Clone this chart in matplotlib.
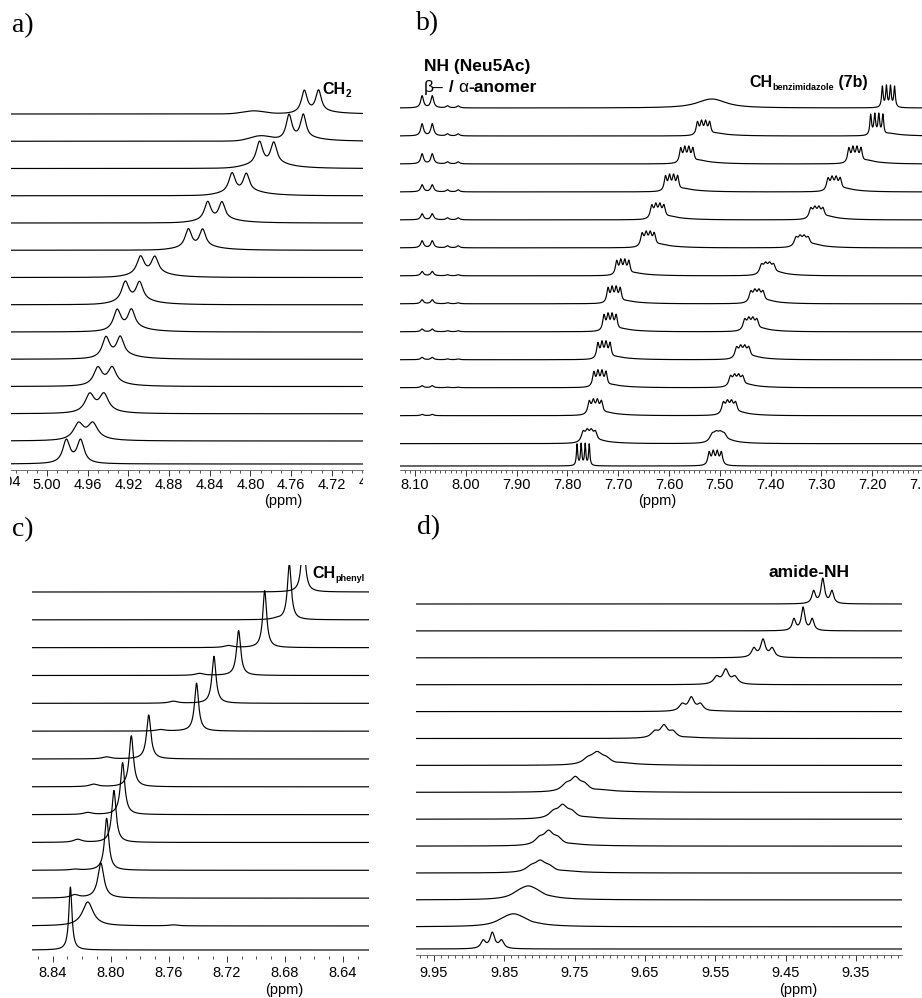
import numpy as np
import matplotlib.pyplot as plt
from matplotlib.ticker import FixedLocator, MultipleLocator, FormatStrFormatter
from matplotlib.transforms import Bbox, TransformedBbox, blended_transform_factory

W, H = 922, 998
plt.rcParams['font.family'] = ['Liberation Sans', 'DejaVu Sans']

# ---------------- data (traces listed top -> bottom) ----------------
# a) CH2 doublet
a_center = [4.740, 4.755, 4.784, 4.811, 4.835, 4.854, 4.901, 4.916, 4.924, 4.935, 4.943, 4.951, 4.962, 4.974]
a_height = [24, 27, 26, 22, 21, 21, 21, 23, 23, 23, 20, 21, 19, 25]
a_hw = [0.0035, 0.0035, 0.004, 0.004, 0.004, 0.004, 0.0045, 0.0045, 0.0045, 0.0045, 0.005, 0.0055, 0.006, 0.0042]
a_split = 0.014
a_tail = [2, 3, 4, 4, 3, 3, 3, 3, 3, 3, 2, 1, 1, 0]          # shelf on the high-field side
a_hump_pos = [4.797, 4.790, 4.800, 4.825, 4.850, 4.870, 4.915, 4.930, 4.94, 4.95, 4.96, 4.97, 4.98, 4.99]
a_hump_height = [3, 5, 2, 1.5, 1, 1, 1, 1, 0, 0, 0, 0, 0, 0]
a_ticks = [5.00, 4.96, 4.92, 4.88, 4.84, 4.80, 4.76, 4.72]

# b) NH (Neu5Ac) + two benzimidazole CH multiplets
b_nh_pos = [8.086, 8.066]
b_nh2_pos = [8.036, 8.015]
b_nh_height = [12, 12, 10, 7, 6, 7, 4.3, 4, 2.7, 2.3, 2, 1.3, 0, 0]
b_nh2_height = [2, 2, 2, 2, 2, 2, 1, 1, 1, 0.8, 0.5, 0, 0, 0]
b_g1_pos = [7.516, 7.532, 7.565, 7.595, 7.622, 7.641, 7.691, 7.708, 7.716, 7.728, 7.736, 7.745, 7.757, 7.769]
b_g1_height = [9, 16, 18, 18, 17, 17, 17, 18, 19, 19, 18, 17, 15, 23]
b_g1_hw = [0.03, 0.003, 0.003, 0.003, 0.0035, 0.0035, 0.003, 0.003, 0.003, 0.003, 0.003, 0.0035, 0.0045, 0.0015]
b_g2_pos = [7.168, 7.191, 7.234, 7.275, 7.309, 7.338, 7.406, 7.427, 7.439, 7.455, 7.467, 7.481, 7.503, 7.509]
b_g2_height = [23, 23, 18, 16, 14, 13, 14, 15, 15, 15, 14, 16, 13, 16]
b_g2_hw = [0.0018, 0.002, 0.003, 0.0035, 0.004, 0.0045, 0.0045, 0.004, 0.004, 0.004, 0.004, 0.004, 0.006, 0.003]
b_tail = [0, 3, 4, 3.5, 3.5, 3.5, 3, 3, 3, 3, 3, 3, 2.5, 0]
b_mult = [-0.012, -0.004, 0.004, 0.012]
b_ticks = [8.10, 8.00, 7.90, 7.80, 7.70, 7.60, 7.50, 7.40, 7.30, 7.20, 7.10]

# c) CH phenyl singlet
c_pos = [8.6674, 8.677, 8.694, 8.712, 8.729, 8.741, 8.774, 8.786, 8.792, 8.798, 8.803, 8.807, 8.816, 8.828]
c_height = [56, 56, 57, 45, 47, 48, 44, 51, 52, 52, 52, 35, 24, 63]
c_hw = [0.0016, 0.0016, 0.0016, 0.0017, 0.0017, 0.0017, 0.0018, 0.0018, 0.0018, 0.0018, 0.0018, 0.0025, 0.0045, 0.0013]
c_bump_pos = [8.690, 8.686, 8.719, 8.739, 8.757, 8.766, 8.803, 8.812, 8.816, 8.823, 8.825, 8.825, 8.757, 8.800]
c_bump_height = [0, 1, 2, 2, 2, 1.5, 2, 2.5, 2, 3, 1, 3, 1, 0]
c_ticks = [8.84, 8.80, 8.76, 8.72, 8.68, 8.64]

# d) amide-NH triplet
d_pos = [9.397, 9.425, 9.482, 9.535, 9.584, 9.623, 9.718, 9.749, 9.767, 9.787, 9.799, 9.816, 9.837, 9.867]
d_height = [26, 24, 19, 16, 15, 14, 14, 16, 15, 16, 13, 14, 13, 17]
d_hw = [0.003, 0.003, 0.004, 0.005, 0.005, 0.006, 0.009, 0.008, 0.008, 0.008, 0.009, 0.014, 0.016, 0.004]
d_tail = [0, 0, 0, 0, 0.5, 1, 2, 2, 1.5, 1.5, 1.5, 1, 1, 0]
d_J = 0.013
d_ticks = [9.95, 9.85, 9.75, 9.65, 9.55, 9.45, 9.35]


def lorentz(x, x0, hw):
    return hw ** 2 / (hw ** 2 + (x - x0) ** 2)


def multiplet(x, center, offsets, weights, hw):
    y = sum(w * lorentz(x, center + o, hw) for o, w in zip(offsets, weights))
    return y / y.max()


def shelf(x, start, width, height):
    # shoulder that switches on below `start` and decays towards lower ppm
    step = 1.0 / (1.0 + np.exp((x - start) / 0.003))
    return height * step * np.exp(-np.clip(start - x, 0, None) / width)


def make_axes(fig, left, right, top, bottom, ref_px, ref_ppm, px_per_ppm):
    ax = fig.add_axes([left / W, 1 - bottom / H, (right - left) / W, (bottom - top) / H])
    ax.set_xlim(ref_ppm + (ref_px - left) / px_per_ppm, ref_ppm - (right - ref_px) / px_per_ppm)
    ax.set_ylim(H - bottom, H - top)
    for s in ('left', 'right', 'top'):
        ax.spines[s].set_visible(False)
    ax.spines['bottom'].set_linewidth(0.6)
    ax.spines['bottom'].set_color('0.35')
    ax.set_yticks([])
    ax.patch.set_alpha(0)
    return ax


def draw_stack(ax, x, traces, first_row, step, last_row):
    n = len(traces)
    for i, y in enumerate(traces):
        row = last_row if i == n - 1 else first_row + i * step
        ax.plot(x, (H - row) + y, color='black', lw=0.85, solid_joinstyle='round')


def style_ticks(ax, ticks, minor, pad, size=10.5):
    ax.xaxis.set_major_locator(FixedLocator(ticks))
    ax.xaxis.set_major_formatter(FormatStrFormatter('%.2f'))
    ax.xaxis.set_minor_locator(MultipleLocator(minor))
    ax.tick_params(axis='x', which='major', length=4, width=0.7, color='0.2',
                   direction='out', pad=pad, labelsize=size)
    ax.tick_params(axis='x', which='minor', length=2.5, width=0.6, color='0.2', direction='out')


def fig_text(fig, x, row, s, **kw):
    return fig.text(x / W, 1 - row / H, s, **kw)


def chain(ax, first, pieces):
    """Place text pieces one after another, each starting where the previous ends."""
    prev = first
    for s, size, weight, dx, dy in pieces:
        prev = ax.annotate(s, xy=(1, 0), xycoords=(prev, first), xytext=(dx, dy),
                           textcoords='offset points', ha='left', va='bottom',
                           fontsize=size, fontweight=weight)
    return prev


fig = plt.figure(figsize=(W / 100, H / 100), dpi=100)

# ---------------- a) ----------------
ax_a = make_axes(fig, 11, 363, 55, 470, 47, 5.00, 1017)
xa = np.linspace(*ax_a.get_xlim(), 3000)
traces = []
for i in range(len(a_center)):
    y = a_height[i] * multiplet(xa, a_center[i], [a_split / 2, -a_split / 2], [1, 1], a_hw[i])
    y = y + shelf(xa, a_center[i] - a_split / 2 - 0.006, 0.02, a_tail[i])
    y = y + a_hump_height[i] * np.exp(-((xa - a_hump_pos[i]) / 0.015) ** 2)
    traces.append(y)
draw_stack(ax_a, xa, traces, 114, 27.25, 464)
style_ticks(ax_a, a_ticks, 0.01, 2)
# labels cut by the panel edges in the original figure
clip_a = TransformedBbox(Bbox.from_extents(10 / W, 0, 363 / W, 1), fig.transFigure)
for v in (5.04, 4.68):
    t = ax_a.text(v, -12 / 415, '%.2f' % v, transform=blended_transform_factory(ax_a.transData, ax_a.transAxes),
                  ha='center', va='center', fontsize=10.5)
    t.set_clip_box(clip_a)
    t.set_clip_on(True)
fig_text(fig, 283, 501, '(ppm)', ha='center', va='center', fontsize=10.5)
ch = fig_text(fig, 322, 94, 'CH', fontsize=11.5, fontweight='bold', va='baseline')
chain(ax_a, ch, [('2', 7, 'bold', 0.5, -1.5)])
fig_text(fig, 12, 26, 'a)', family='Liberation Serif', fontsize=20, va='center')

# ---------------- b) ----------------
ax_b = make_axes(fig, 400, 935, 55, 470, 415, 8.10, 508)
xb = np.linspace(*ax_b.get_xlim(), 4000)
traces = []
for i in range(len(b_g1_pos)):
    y = b_nh_height[i] * sum(lorentz(xb, p, 0.0033) for p in b_nh_pos)
    y = y + b_nh2_height[i] * sum(lorentz(xb, p, 0.0033) for p in b_nh2_pos)
    y = y + b_g1_height[i] * multiplet(xb, b_g1_pos[i], b_mult, [1, 1, 1, 1], b_g1_hw[i])
    y = y + b_g2_height[i] * multiplet(xb, b_g2_pos[i], b_mult, [1, 1, 1, 1], b_g2_hw[i])
    y = y + shelf(xb, b_g1_pos[i] - 0.02, 0.035, b_tail[i])
    y = y + shelf(xb, b_g2_pos[i] - 0.02, 0.03, b_tail[i])
    traces.append(y)
draw_stack(ax_b, xb, traces, 108, 27.97, 466)
style_ticks(ax_b, b_ticks, 0.01, 2)
fig_text(fig, 657, 501, '(ppm)', ha='center', va='center', fontsize=10.5)
fig_text(fig, 424, 71, 'NH (Neu5Ac)', fontsize=12.5, fontweight='bold', va='baseline')
beta = fig_text(fig, 424, 92, 'β–', fontsize=12.5, va='baseline')
chain(ax_b, beta, [(' / ', 12.5, 'bold', 0, 0), ('α', 12.5, 'normal', 0, 0), ('-anomer', 12.5, 'bold', 0, 0)])
ch = fig_text(fig, 749, 87, 'CH', fontsize=11.5, fontweight='bold', va='baseline')
sub = chain(ax_b, ch, [('benzimidazole', 6.5, 'bold', 0.5, -1.5)])
ax_b.annotate(' (7b)', xy=(1, 0), xycoords=(sub, ch), xytext=(0, 0), textcoords='offset points',
              ha='left', va='bottom', fontsize=11.5, fontweight='bold')
fig_text(fig, 416, 24, 'b)', family='Liberation Serif', fontsize=20, va='center')

# ---------------- c) ----------------
ax_c = make_axes(fig, 32, 369, 565, 956, 53, 8.84, 1450)
ax_c.spines['bottom'].set_visible(False)
xc = np.linspace(*ax_c.get_xlim(), 4000)
traces = [h * lorentz(xc, p, w) + bh * lorentz(xc, bp, 0.0035)
          for p, h, w, bp, bh in zip(c_pos, c_height, c_hw, c_bump_pos, c_bump_height)]
draw_stack(ax_c, xc, traces, 592, 27.83, 950)
style_ticks(ax_c, c_ticks, 0.01, 3)
fig_text(fig, 284, 990, '(ppm)', ha='center', va='center', fontsize=10.5)
ch = fig_text(fig, 312, 578, 'CH', fontsize=11.5, fontweight='bold', va='baseline')
chain(ax_c, ch, [('phenyl', 6.5, 'bold', 0.5, -1.5)])
fig_text(fig, 12, 530, 'c)', family='Liberation Serif', fontsize=20, va='center')

# ---------------- d) ----------------
ax_d = make_axes(fig, 416, 902, 555, 955, 434, 9.95, 703)
xd = np.linspace(*ax_d.get_xlim(), 4000)
traces = [h * multiplet(xd, p, [-d_J, 0, d_J], [0.5, 1, 0.5], w) + shelf(xd, p - 0.03, 0.04, t)
          for p, h, w, t in zip(d_pos, d_height, d_hw, d_tail)]
draw_stack(ax_d, xd, traces, 604, 26.9, 949)
style_ticks(ax_d, d_ticks, 0.01, 4)
fig_text(fig, 798, 990, '(ppm)', ha='center', va='center', fontsize=10.5)
fig_text(fig, 768, 577, 'amide-NH', fontsize=12.5, fontweight='bold', va='baseline')
fig_text(fig, 417, 528, 'd)', family='Liberation Serif', fontsize=20, va='center')

fig.savefig('out.png', dpi=100)
